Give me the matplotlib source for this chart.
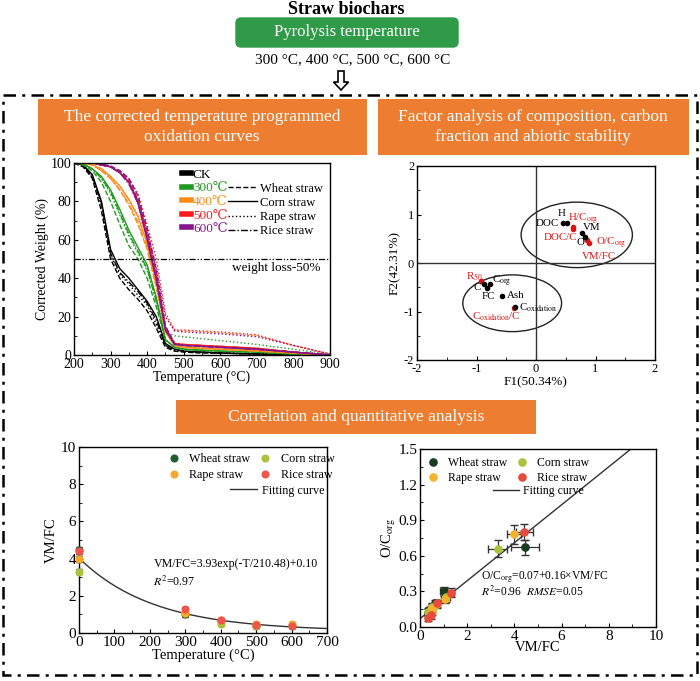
import numpy as np
import matplotlib
matplotlib.use('Agg')
import matplotlib.pyplot as plt
from matplotlib.patches import FancyBboxPatch, Rectangle, Ellipse, FancyArrow
from matplotlib.lines import Line2D

plt.rcParams['font.family'] = ['Liberation Serif', 'DejaVu Serif', 'DejaVu Sans']
plt.rcParams['mathtext.fontset'] = 'stix'
plt.rcParams['xtick.direction'] = 'in'
plt.rcParams['ytick.direction'] = 'in'
plt.rcParams['axes.linewidth'] = 1.0
plt.rcParams['axes.unicode_minus'] = False

# ---------------- data: TGA curves ----------------
tga_T = [200, 225, 250, 275, 300, 325, 350, 375, 400, 425, 450, 475, 500, 550, 600, 700, 800, 900]

ck_wheat = [100, 98, 92, 75, 50, 40, 34, 29, 23, 14, 4, 2, 1.5, 1, 1, 0.5, 0.2, 0]
ck_corn = [100, 99, 94, 80, 55, 45, 40, 34, 28, 20, 6, 3, 2, 1.5, 1, 0.5, 0.2, 0]
ck_rape = [100, 98, 93, 78, 52, 42, 37, 31, 26, 16, 5, 3, 2, 1.5, 1.2, 0.8, 0.3, 0]
ck_rice = [100, 99, 93, 79, 53, 43, 38, 33, 27, 18, 5, 2.5, 2, 1.5, 1, 0.5, 0.2, 0]

t300_wheat = [100, 99, 96, 90, 80, 68, 57, 50, 40, 25, 8, 4, 3, 2.5, 2, 1.5, 0.5, 0]
t300_corn = [100, 99.5, 97, 93, 86, 76, 65, 56, 47, 30, 8, 4, 3, 2.5, 2, 1.5, 0.5, 0]
t300_rape = [100, 99.5, 97, 92, 84, 73, 62, 53, 44, 28, 12, 10, 9.5, 8.5, 7.5, 5.5, 3, 0.5]
t300_rice = [100, 99.5, 97, 92, 85, 74, 63, 54, 45, 28, 8, 4, 3, 2.5, 2, 1.5, 0.5, 0]

t400_wheat = [100, 100, 99, 96, 92, 86, 78, 68, 55, 35, 12, 5, 4, 3.5, 3, 2, 1, 0]
t400_corn = [100, 100, 99, 97, 93, 88, 81, 72, 58, 38, 12, 5, 4, 3.5, 3, 2.5, 1, 0]
t400_rape = [100, 100, 99, 97, 93, 88, 81, 73, 62, 45, 20, 13, 12.5, 12, 11.5, 10, 5, 0.5]
t400_rice = [100, 100, 99, 96, 92, 86, 79, 69, 56, 36, 12, 5, 4, 3.5, 3, 2, 1, 0]

t500_wheat = [100, 100, 100, 99, 98, 96, 91, 81, 63, 42, 15, 6, 5, 4.5, 4, 3, 1.5, 0]
t500_corn = [100, 100, 100, 99, 98, 95, 90, 80, 62, 40, 14, 6, 5.5, 5, 4.5, 3.5, 1.5, 0]
t500_rape = [100, 100, 100, 99, 98, 96, 92, 84, 68, 50, 22, 13, 13, 12.5, 12, 10.5, 5, 0.5]
t500_rice = [100, 100, 100, 99, 98, 95, 90, 80, 62, 41, 14, 6, 5.5, 5, 4.5, 3.5, 1.5, 0]

t600_wheat = [100, 100, 100, 99.5, 98.5, 96, 92, 83, 66, 44, 15, 6, 5, 4.5, 4, 3, 1.5, 0]
t600_corn = [100, 100, 100, 99, 98, 95, 90, 79, 60, 39, 13, 5.5, 5, 4.5, 4, 3, 1.5, 0]
t600_rape = [100, 100, 100, 99, 98, 95, 90, 81, 64, 46, 20, 12.5, 12, 11.5, 11, 9.5, 5, 0.5]
t600_rice = [100, 100, 100, 99, 98, 95, 89, 79, 61, 40, 13, 5.5, 5, 4.5, 4, 3, 1.5, 0]

tga_groups = ['CK', '300℃', '400℃', '500℃', '600℃']
straw_names = ['Wheat straw', 'Corn straw', 'Rape straw', 'Rice straw']

# ---------------- data: factor analysis ----------------
fa_names = ['DOC', 'H', 'VM', 'O', 'C', 'C$_{\\mathrm{org}}$', 'FC', 'Ash', 'C$_{\\mathrm{oxidation}}$',
            'H/C$_{\\mathrm{org}}$', 'DOC/C', 'O/C$_{\\mathrm{org}}$', 'VM/FC', 'R$_{50}$',
            'C$_{\\mathrm{oxidation}}$/C']
fa_f1 = [0.46, 0.52, 0.77, 0.83, -0.87, -0.78, -0.82, -0.57, -0.36, 0.63, 0.62, 0.86, 0.89, -0.92, -0.37]
fa_f2 = [0.82, 0.82, 0.62, 0.53, -0.43, -0.44, -0.52, -0.68, -0.90, 0.74, 0.70, 0.47, 0.41, -0.37, -0.92]
fa_red = [False] * 9 + [True] * 6

# ---------------- data: VM/FC vs temperature ----------------
pyro_T = [0, 300, 400, 500, 600]
vmfc_wheat = [4.45, 1.0, 0.65, 0.4, 0.35]
vmfc_corn = [3.3, 1.1, 0.5, 0.35, 0.45]
vmfc_rape = [3.98, 1.05, 0.72, 0.5, 0.5]
vmfc_rice = [4.42, 1.3, 0.7, 0.45, 0.35]
vmfc_err = [0.15, 0.12, 0.1, 0.08, 0.08]

# ---------------- data: O/Corg vs VM/FC ----------------
oc_wheat = [0.67, 0.30, 0.20, 0.14, 0.12]
oc_corn = [0.66, 0.25, 0.17, 0.13, 0.15]
oc_rape = [0.78, 0.24, 0.19, 0.16, 0.13]
oc_rice = [0.80, 0.29, 0.20, 0.10, 0.08]
vmfc_xerr_wheat = [0.6, 0.15, 0.1, 0.08, 0.08]
vmfc_xerr_corn = [0.4, 0.15, 0.1, 0.08, 0.08]
vmfc_xerr_rape = [0.3, 0.15, 0.1, 0.08, 0.08]
vmfc_xerr_rice = [0.35, 0.15, 0.1, 0.08, 0.08]
oc_yerr_wheat = [0.06, 0.04, 0.03, 0.03, 0.03]
oc_yerr_corn = [0.07, 0.04, 0.03, 0.03, 0.03]
oc_yerr_rape = [0.08, 0.04, 0.03, 0.03, 0.03]
oc_yerr_rice = [0.07, 0.04, 0.03, 0.03, 0.03]

# fitted models (given in the chart)
fit1_a, fit1_tau, fit1_c = 3.93, 210.48, 0.10
fit2_b0, fit2_b1 = 0.07, 0.16

# ---------------- figure ----------------
W, H = 700, 681
fig = plt.figure(figsize=(7, 6.81), dpi=100)


def rect(l, t, r, b):
    return [l / W, 1 - b / H, (r - l) / W, (b - t) / H]


ov = fig.add_axes([0, 0, 1, 1], zorder=0)
ov.set_xlim(0, W)
ov.set_ylim(H, 0)
ov.axis('off')

GREEN = '#2f9a48'
ORANGE = '#ed7d31'

ov.text(346, 9, 'Straw biochars', ha='center', va='center', fontsize=13, fontweight='bold')
ov.add_patch(FancyBboxPatch((236, 18), 222, 29, boxstyle='round,pad=0,rounding_size=5',
                            fc=GREEN, ec=GREEN))
ov.text(347, 32, 'Pyrolysis temperature', ha='center', va='center', fontsize=12, color='white')
ov.text(353, 60, '300 °C, 400 °C, 500 °C, 600 °C', ha='center', va='center', fontsize=11)
ov.add_patch(FancyArrow(341, 71, 0, 19, width=6, head_width=15, head_length=8,
                        length_includes_head=True, fc='white', ec='black', lw=1.2))
ov.add_patch(Rectangle((3, 95), 694, 580, fill=False, ec='black', lw=1.8,
                       ls=(0, (5, 2.5, 1.2, 2.5))))

ov.add_patch(Rectangle((38, 99), 329, 56, fc=ORANGE, ec='none'))
ov.text(202, 127, 'The corrected temperature programmed\noxidation curves', ha='center', va='center',
        fontsize=12.5, color='white', linespacing=1.3)
ov.add_patch(Rectangle((378, 99), 311, 56, fc=ORANGE, ec='none'))
ov.text(533, 127, 'Factor analysis of composition, carbon\nfraction and abiotic stability', ha='center',
        va='center', fontsize=12.5, color='white', linespacing=1.3)
ov.add_patch(Rectangle((176, 400), 360, 34, fc=ORANGE, ec='none'))
ov.text(356, 417, 'Correlation and quantitative analysis', ha='center', va='center',
        fontsize=12.5, color='white')

# ---------------- TGA panel ----------------
ax1 = fig.add_axes(rect(74, 163, 330, 355), zorder=2)
grp_colors = ['black', '#1f9a1f', '#ff8c1a', '#ff1a1a', '#86168a']
styles = ['--', '-', ':', (0, (5, 1.5, 1, 1.5))]
curves = [[ck_wheat, ck_corn, ck_rape, ck_rice],
          [t300_wheat, t300_corn, t300_rape, t300_rice],
          [t400_wheat, t400_corn, t400_rape, t400_rice],
          [t500_wheat, t500_corn, t500_rape, t500_rice],
          [t600_wheat, t600_corn, t600_rape, t600_rice]]
for g, col in enumerate(grp_colors):
    for s, ls in enumerate(styles):
        ax1.plot(tga_T, curves[g][s], color=col, ls=ls, lw=1.0)
ax1.axhline(50, color='black', lw=0.9, ls=(0, (5, 1.5, 1, 1.5, 1, 1.5)))
ax1.text(873, 45.3, 'weight loss-50%', ha='right', va='center', fontsize=9.5)
ax1.set_xlim(200, 900)
ax1.set_ylim(0, 100)
ax1.set_xticks(range(200, 901, 100))
ax1.set_yticks(range(0, 101, 20))
ax1.set_xticks(range(250, 900, 100), minor=True)
ax1.set_yticks(range(10, 100, 20), minor=True)
ax1.tick_params(labelsize=10, length=3, pad=2)
ax1.tick_params(which='minor', length=2)
ax1.set_xlabel('Temperature (°C)', fontsize=10, labelpad=0)
ax1.set_ylabel('Corrected Weight (%)', fontsize=10, labelpad=1)
h1 = [Line2D([], [], color=c, lw=4) for c in grp_colors]
leg1 = ax1.legend(h1, tga_groups, loc='upper left', bbox_to_anchor=(0.395, 1.005), frameon=False,
                  fontsize=9.5, handlelength=0.7, handletextpad=0.15, labelspacing=0.1,
                  labelcolor=grp_colors, borderpad=0.0)
ax1.add_artist(leg1)
h2 = [Line2D([], [], color='black', ls=ls, lw=1.0) for ls in styles]
ax1.legend(h2, straw_names, loc='upper right', bbox_to_anchor=(0.995, 0.93), frameon=False,
           fontsize=9, handlelength=2.3, handletextpad=0.2, labelspacing=0.17, borderpad=0.0)

# ---------------- factor analysis panel ----------------
ax2 = fig.add_axes(rect(417, 166, 655, 360), zorder=2)
ax2.axhline(0, color='#333333', lw=1.0)
ax2.axvline(0, color='#333333', lw=1.0)
for x, y, red in zip(fa_f1, fa_f2, fa_red):
    ax2.plot(x, y, 'o', ms=3.0, color='#e01010' if red else 'black', zorder=3 if not red else 2)
label_off = [(-3, -0.5, 'right'), (-4, 7, 'center'), (1, 4, 'left'),
             (-3.4, -3.6, 'center'), (-5.3, -2.4, 'center'), (1.7, 2.4, 'left'),
             (0.7, -6, 'center'), (3.4, 0.7, 'left'), (2.9, -0.7, 'left'),
             (-4.3, 5.6, 'left'), (-9, -6, 'center'), (6.5, -2.5, 'left'),
             (7.2, -9.5, 'center'), (-11, 2.9, 'left'), (-12.7, -6.7, 'center')]
for name, x, y, red, (dx, dy, ha) in zip(fa_names, fa_f1, fa_f2, fa_red, label_off):
    ax2.annotate(name, (x, y), xytext=(dx, dy), textcoords='offset points', ha=ha, va='center',
                 fontsize=7.8, color='#e01010' if red else 'black')
ax2.add_patch(Ellipse((0.685, 0.58), 1.87, 1.35, fill=False, ec='#222222', lw=1.0))
ax2.add_patch(Ellipse((-0.40, -0.83), 1.66, 1.17, fill=False, ec='#222222', lw=1.0))
ax2.set_xlim(-2, 2)
ax2.set_ylim(-2, 2)
ax2.set_xticks([-2, -1, 0, 1, 2])
ax2.set_yticks([-2, -1, 0, 1, 2])
ax2.set_xticks([-1.5, -0.5, 0.5, 1.5], minor=True)
ax2.set_yticks([-1.5, -0.5, 0.5, 1.5], minor=True)
ax2.tick_params(labelsize=9, length=3, pad=2)
ax2.tick_params(which='minor', length=2)
ax2.set_xlabel('F1(50.34%)', fontsize=9.5, labelpad=1)
ax2.set_ylabel('F2(42.31%)', fontsize=9.5, labelpad=2)

# ---------------- VM/FC vs temperature ----------------
ax3 = fig.add_axes(rect(79, 447, 327, 633), zorder=2)
straw_cols_l = ['#1d5e31', '#a9c43c', '#f5a82a', '#f2544c']
vm_series = [vmfc_wheat, vmfc_corn, vmfc_rape, vmfc_rice]
for vals, col in zip(vm_series, straw_cols_l):
    ax3.errorbar(pyro_T, vals, yerr=vmfc_err, fmt='o', ms=4.8, color=col, ecolor='black',
                 elinewidth=1.0, capsize=2.5, clip_on=False, zorder=3)
Tfit = np.linspace(0, 700, 300)
fit_line, = ax3.plot(Tfit, fit1_a * np.exp(-Tfit / fit1_tau) + fit1_c, color='#333333', lw=1.0)
ax3.text(210, 3.7, 'VM/FC=3.93exp(-T/210.48)+0.10', fontsize=8.6, va='center')
ax3.text(210, 2.75, '$R^2$=0.97', fontsize=8.6, va='center')
ax3.set_xlim(0, 700)
ax3.set_ylim(0, 10)
ax3.set_xticks(range(0, 701, 100))
ax3.set_yticks(range(0, 11, 2))
ax3.set_xticks(range(50, 700, 100), minor=True)
ax3.set_yticks(range(1, 10, 2), minor=True)
ax3.tick_params(labelsize=11, length=3, pad=2)
ax3.tick_params(which='minor', length=2)
ax3.set_xlabel('Temperature (°C)', fontsize=10.5, labelpad=0)
ax3.set_ylabel('VM/FC', fontsize=10.5, labelpad=2)
mk = [Line2D([], [], ls='none', marker='o', ms=4.8, color=c) for c in straw_cols_l]
legA = ax3.legend([mk[0], mk[2], mk[1], mk[3]],
                  ['Wheat straw', 'Rape straw', 'Corn straw', 'Rice straw'],
                  ncol=2, loc='upper left', bbox_to_anchor=(0.335, 1.0), frameon=False, fontsize=8.7,
                  handlelength=1.0, handletextpad=0.75, labelspacing=0.33, columnspacing=0.75,
                  borderpad=0.0)
ax3.add_artist(legA)
ax3.legend([fit_line], ['Fitting curve'], loc='upper left', bbox_to_anchor=(0.585, 0.83),
           frameon=False, fontsize=8.7, handlelength=2.2, handletextpad=0.4, borderpad=0.0)

# ---------------- O/Corg vs VM/FC ----------------
ax4 = fig.add_axes(rect(420, 449, 656, 627), zorder=2)
straw_cols_r = ['#173d20', '#a9c43c', '#f2b32e', '#e84a3c']
oc_series = [oc_wheat, oc_corn, oc_rape, oc_rice]
xerrs = [vmfc_xerr_wheat, vmfc_xerr_corn, vmfc_xerr_rape, vmfc_xerr_rice]
yerrs = [oc_yerr_wheat, oc_yerr_corn, oc_yerr_rape, oc_yerr_rice]
for xv, yv, xe, ye, col in zip(vm_series, oc_series, xerrs, yerrs, straw_cols_r):
    ax4.errorbar(xv, yv, xerr=xe, yerr=ye, fmt='o', ms=5.2, color=col, ecolor='#333333',
                 elinewidth=0.9, capsize=3, zorder=3)
xfit = np.linspace(0, 10, 100)
fit2_line, = ax4.plot(xfit, fit2_b0 + fit2_b1 * xfit, color='#333333', lw=1.0)
ax4.text(2.57, 0.42, 'O/C$_{\\mathrm{org}}$=0.07+0.16×VM/FC', fontsize=8.3, va='center')
ax4.text(2.57, 0.30, '$R^2$=0.96  $RMSE$=0.05', fontsize=8.3, va='center')
ax4.set_xlim(0, 10)
ax4.set_ylim(0, 1.5)
ax4.set_xticks(range(0, 11, 2))
ax4.set_yticks([0.0, 0.3, 0.6, 0.9, 1.2, 1.5])
ax4.set_yticklabels(['0.0', '0.3', '0.6', '0.9', '1.2', '1.5'])
ax4.set_xticks(range(1, 10, 2), minor=True)
ax4.set_yticks([0.15, 0.45, 0.75, 1.05, 1.35], minor=True)
ax4.tick_params(labelsize=11, length=3, pad=2)
ax4.tick_params(which='minor', length=2)
ax4.set_xlabel('VM/FC', fontsize=10.5, labelpad=-1)
ax4.set_ylabel('O/C$_{\\mathrm{org}}$', fontsize=10.5, labelpad=0)
mk2 = [Line2D([], [], ls='none', marker='o', ms=5.2, color=c) for c in straw_cols_r]
legB = ax4.legend([mk2[0], mk2[2], mk2[1], mk2[3]],
                  ['Wheat straw', 'Rape straw', 'Corn straw', 'Rice straw'],
                  ncol=2, loc='upper left', bbox_to_anchor=(0.004, 0.99), frameon=False, fontsize=8.5,
                  handlelength=1.0, handletextpad=0.8, labelspacing=0.25, columnspacing=0.7,
                  borderpad=0.0)
ax4.add_artist(legB)
ax4.legend([fit2_line], ['Fitting curve'], loc='upper left', bbox_to_anchor=(0.284, 0.83),
           frameon=False, fontsize=8.5, handlelength=2.2, handletextpad=0.35, borderpad=0.0)

fig.savefig('out.png', dpi=100)
